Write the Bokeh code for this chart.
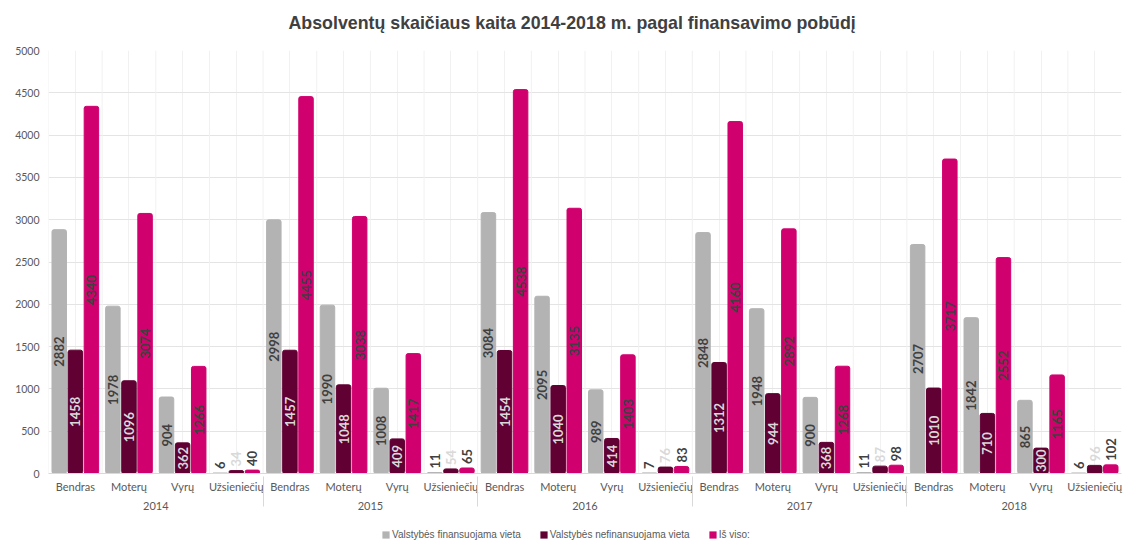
import math
from bokeh.plotting import figure
from bokeh.layouts import column
from bokeh.models import (ColumnDataSource, FactorRange, Range1d, FixedTicker,
                          Legend, LegendItem, Label)
from bokeh.transform import dodge
from bokeh.embed import file_html
from bokeh.resources import INLINE
from bokeh.core.properties import value

# ---------------- data ----------------
title_text = "Absolventų skaičiaus kaita 2014-2018 m. pagal finansavimo pobūdį"
years = ["2014", "2015", "2016", "2017", "2018"]
groups = ["Bendras", "Moterų", "Vyrų", "Užsieniečių"]
series_names = ["Valstybės finansuojama vieta", "Valstybės nefinansuojama vieta", "Iš viso:"]

finansuojama = [2882, 1978, 904, 6,
                2998, 1990, 1008, 11,
                3084, 2095, 989, 7,
                2848, 1948, 900, 11,
                2707, 1842, 865, 6]
nefinansuojama = [1458, 1096, 362, 34,
                  1457, 1048, 409, 54,
                  1454, 1040, 414, 76,
                  1312, 944, 368, 87,
                  1010, 710, 300, 96]
is_viso = [4340, 3074, 1266, 40,
           4455, 3038, 1417, 65,
           4538, 3135, 1403, 83,
           4160, 2892, 1268, 98,
           3717, 2552, 1165, 102]

y_ticks = [0, 500, 1000, 1500, 2000, 2500, 3000, 3500, 4000, 4500, 5000]

colors = ["#b3b3b3", "#600033", "#d1006f"]
label_colors = ["#404040", "#d9d9d9", "#404040"]
offsets = [-0.3, 0.0, 0.3]

factors = [(y, g) for y in years for g in groups]

W = 1131

# ---------------- title strip ----------------
t = figure(width=W, height=40, output_backend="svg", toolbar_location=None,
           x_range=Range1d(0, 1), y_range=Range1d(0, 1),
           x_axis_type=None, y_axis_type=None,
           min_border_left=0, min_border_right=0, min_border_top=0, min_border_bottom=0)
t.outline_line_color = None
t.grid.visible = False
t.add_layout(Label(x=240, y=18, x_units="screen", y_units="screen", text=title_text,
                   text_align="left", text_baseline="middle",
                   text_font="Liberation Sans", text_font_size="17.8px",
                   text_font_style="bold", text_color="#404040"))

# ---------------- main chart ----------------
p = figure(width=W, height=483, output_backend="svg", toolbar_location=None,
           x_range=FactorRange(*factors, factor_padding=0, group_padding=0,
                               range_padding=0),
           y_range=Range1d(0, 5000),
           min_border_left=48, min_border_right=10, min_border_top=10,
           min_border_bottom=50)
p.outline_line_color = None
p.background_fill_color = "white"
p.border_fill_color = "white"

# grids
p.ygrid.ticker = FixedTicker(ticks=y_ticks)
p.ygrid.grid_line_color = "#e4e4e4"
p.xgrid.grid_line_color = "#f1f1f1"

# category boundary lines (faint vertical grid)
bsrc = ColumnDataSource(dict(cat=factors, y0=[0] * len(factors), y1=[5000] * len(factors)))
p.segment(x0=dodge("cat", -0.5, range=p.x_range), x1=dodge("cat", -0.5, range=p.x_range),
          y0="y0", y1="y1", source=bsrc, line_color="#f1f1f1", line_width=1)

# axes
p.yaxis.ticker = FixedTicker(ticks=y_ticks)
p.yaxis.axis_line_color = None
p.yaxis.major_tick_line_color = None
p.yaxis.minor_tick_line_color = None
p.yaxis.major_label_text_font = "Lato"
p.yaxis.major_label_text_font_size = "10.5px"
p.yaxis.major_label_text_color = "#595959"
p.yaxis.major_label_standoff = 3

p.xaxis.axis_label = None
p.xaxis.major_tick_out = 0
p.xaxis.major_tick_in = 0
p.xaxis.minor_tick_out = 0
p.xaxis.axis_line_color = "#d9d9d9"
p.xaxis.major_tick_line_color = None
p.xaxis.minor_tick_line_color = None
p.xaxis.major_label_text_font = "Lato"
p.xaxis.major_label_text_font_size = "11px"
p.xaxis.major_label_text_color = "#595959"
p.xaxis.major_label_standoff = 6
p.xaxis.group_text_font = "Lato"
p.xaxis.group_text_font_size = "11px"
p.xaxis.group_text_font_style = "normal"
p.xaxis.group_text_color = "#595959"
p.xaxis.separator_line_color = "#d9d9d9"
p.xaxis.separator_line_width = 1

# bars and labels
data_series = [finansuojama, nefinansuojama, is_viso]
for i, vals in enumerate(data_series):
    src = ColumnDataSource(dict(cat=factors, v=vals))
    p.vbar(x=dodge("cat", offsets[i], range=p.x_range), top="v", width=0.27,
           source=src, fill_color=colors[i], line_color=colors[i], border_radius=2)

    inside = [(c, v) for c, v in zip(factors, vals) if v >= 200]
    above = [(c, v) for c, v in zip(factors, vals) if v < 200]
    s_in = ColumnDataSource(dict(cat=[c for c, _ in inside],
                                 ly=[v / 2 for _, v in inside],
                                 t=[str(v) for _, v in inside]))
    p.text(x=dodge("cat", offsets[i], range=p.x_range), y="ly", text="t", source=s_in,
           angle=math.pi / 2, text_align="center", text_baseline="middle",
           text_font=value("Lato"), text_font_style="bold", text_font_size="13px",
           text_color=label_colors[i])
    s_ab = ColumnDataSource(dict(cat=[c for c, _ in above],
                                 ly=[v for _, v in above],
                                 t=[str(v) for _, v in above]))
    p.text(x=dodge("cat", offsets[i], range=p.x_range), y="ly", text="t", source=s_ab,
           angle=math.pi / 2, text_align="left", text_baseline="middle", y_offset=-4,
           text_font=value("Lato"), text_font_style="bold", text_font_size="13px",
           text_color=label_colors[i])

# ---------------- legend strip ----------------
lg = figure(width=W, height=23, output_backend="svg", toolbar_location=None,
            x_range=Range1d(0, 1), y_range=Range1d(0, 1),
            x_axis_type=None, y_axis_type=None,
            min_border_left=0, min_border_right=0, min_border_top=0, min_border_bottom=0)
lg.outline_line_color = None
lg.grid.visible = False
proxies = []
for i in range(3):
    # zero-size proxy glyphs: invisible in the strip, used only for the legend swatches
    proxies.append(lg.vbar(x=[0], top=[0], bottom=[0], width=0,
                           fill_color=colors[i], line_color=None))
legend = Legend(items=[LegendItem(label=series_names[i], renderers=[proxies[i]])
                       for i in range(3)],
                orientation="horizontal", location=(333, 6),
                label_text_font="Liberation Sans", label_text_font_size="10px",
                label_text_color="#595959", glyph_width=9, glyph_height=9,
                label_standoff=2, spacing=18, padding=0, margin=0,
                label_height=10,
                border_line_color=None, background_fill_alpha=0)
lg.add_layout(legend, "center")

layout = column(t, p, lg, spacing=0)
open("out.html", "w").write(file_html(layout, INLINE))
